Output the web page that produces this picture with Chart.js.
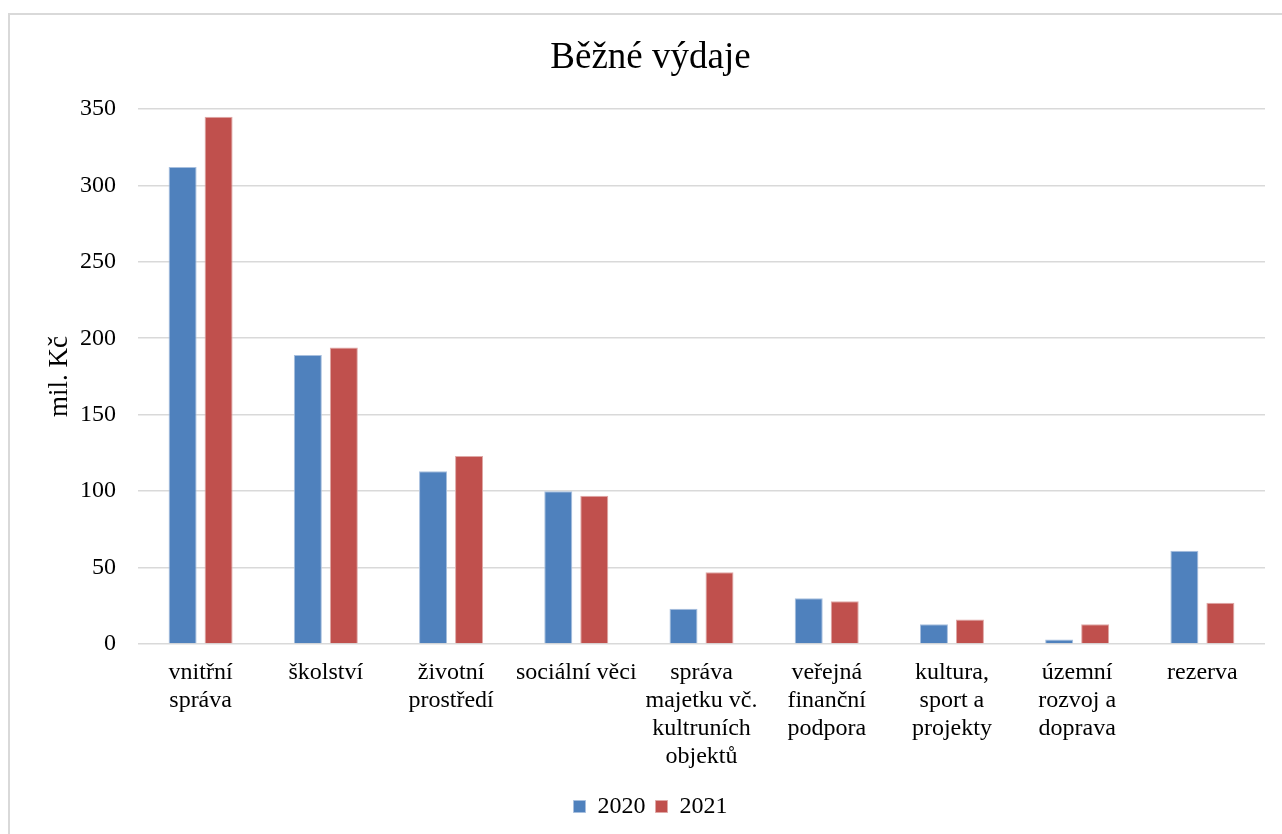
<!DOCTYPE html>
<html>
<head>
<meta charset="utf-8">
<script src="https://cdn.jsdelivr.net/npm/chart.js@4.4.1/dist/chart.umd.min.js"></script>
<style>
html,body{margin:0;padding:0;background:#fff;}
#wrap{position:absolute;left:0;top:0;width:1282px;height:834px;}
</style>
</head>
<body>
<div id="wrap"><canvas id="c" width="1282" height="834"></canvas></div>
<script>
const categories = [
  ["vnitřní","správa"],
  ["školství"],
  ["životní","prostředí"],
  ["sociální věci"],
  ["správa","majetku vč.","kultruních","objektů"],
  ["veřejná","finanční","podpora"],
  ["kultura,","sport a","projekty"],
  ["územní","rozvoj a","doprava"],
  ["rezerva"]
];
const values2020 = [312, 189, 113, 100, 23, 30, 13, 3, 61];
const values2021 = [345, 194, 123, 97, 47, 28, 16, 13, 27];
const seriesLabels = ["2020", "2021"];
const yTicks = [0, 50, 100, 150, 200, 250, 300, 350];

const SERIF = "'Liberation Serif','Times New Roman',serif";

const framePlugin = {
  id: 'frame',
  beforeDraw(chart) {
    const ctx = chart.ctx;
    ctx.save();
    ctx.fillStyle = '#fff';
    ctx.fillRect(0, 0, chart.width, chart.height);
    ctx.strokeStyle = '#D9D9D9';
    ctx.lineWidth = 2;
    ctx.beginPath();
    ctx.moveTo(9, 840);
    ctx.lineTo(9, 14);
    ctx.lineTo(1290, 14);
    ctx.stroke();
    ctx.restore();
  }
};

new Chart(document.getElementById('c'), {
  type: 'bar',
  data: {
    labels: categories,
    datasets: [
      { label: seriesLabels[0], data: values2020, backgroundColor: '#4F81BD', borderColor: '#A7BFDE', borderWidth: 1, borderSkipped: 'bottom' },
      { label: seriesLabels[1], data: values2021, backgroundColor: '#C0504D', borderColor: '#DFA8A6', borderWidth: 1, borderSkipped: 'bottom' }
    ]
  },
  options: {
    responsive: false,
    animation: false,
    events: [],
    layout: { padding: { left: 36, right: 17, top: 14, bottom: 5.5 } },
    datasets: { bar: { categoryPercentage: 0.575, barPercentage: 0.778 } },
    plugins: {
      title: {
        display: true,
        text: 'Běžné výdaje',
        color: '#000',
        font: { family: SERIF, size: 37, weight: 'normal', lineHeight: 1.2 },
        padding: { top: 22, bottom: 28.6 }
      },
      legend: {
        position: 'bottom',
        labels: {
          color: '#000',
          font: { family: SERIF, size: 24 },
          boxWidth: 12,
          boxHeight: 12,
          padding: 10
        }
      },
      tooltip: { enabled: false }
    },
    scales: {
      x: {
        grid: { display: false, drawTicks: false },
        border: { display: false },
        ticks: {
          color: '#000',
          font: { family: SERIF, size: 24, lineHeight: 28 / 24 },
          padding: 15,
          maxRotation: 0,
          autoSkip: false
        },
        afterFit(scale) { scale.height = 140.5; }
      },
      y: {
        min: 0,
        max: 350,
        afterBuildTicks(scale) { scale.ticks = yTicks.map(v => ({ value: v })); },
        grid: { color: '#D9D9D9', lineWidth: 1.6, drawTicks: false },
        border: { display: false },
        ticks: {
          color: '#000',
          font: { family: SERIF, size: 24 },
          padding: 22
        },
        title: {
          display: true,
          text: 'mil. Kč',
          color: '#000',
          font: { family: SERIF, size: 27, lineHeight: 1.2 },
          padding: { top: 8, bottom: 0 }
        },
        afterFit(scale) { scale.width = 102; }
      }
    }
  },
  plugins: [framePlugin]
});
</script>
</body>
</html>
